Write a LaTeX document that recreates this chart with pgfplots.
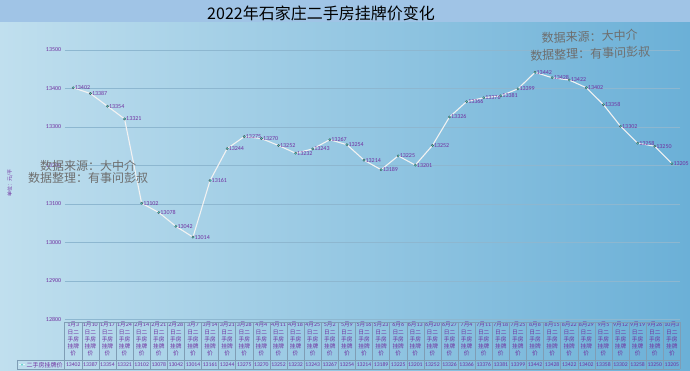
\documentclass[border=0pt]{standalone}
\usepackage{fontspec}
\setmainfont{Liberation Serif}
\newfontfamily\cjk{Noto Sans CJK SC}
\newfontfamily\num{Carlito}
\usepackage{pgfplots}
\pgfplotsset{compat=1.18}
\usepackage{pgfplotstable}
\definecolor{titlebar}{HTML}{A0C4E6}
\definecolor{bgl}{HTML}{C0DFEE}
\definecolor{bgr}{HTML}{6BB0D7}
\definecolor{lab}{HTML}{7030A0}
\definecolor{gridc}{HTML}{8DB7D0}
\definecolor{mk}{HTML}{3FD0C8}
\definecolor{wm}{HTML}{6E6E6E}
\definecolor{tbl}{HTML}{7F9DB5}

\pgfplotstableread{
idx val
0 13402
1 13387
2 13354
3 13321
4 13102
5 13078
6 13042
7 13014
8 13161
9 13244
10 13275
11 13270
12 13252
13 13232
14 13243
15 13267
16 13254
17 13214
18 13189
19 13225
20 13201
21 13252
22 13326
23 13366
24 13376
25 13381
26 13399
27 13442
28 13428
29 13422
30 13402
31 13358
32 13302
33 13258
34 13250
35 13205
}\data

\protected\def\hd#1#2{{\num\fontsize{6}{7.1}\selectfont #1}月{\num\fontsize{6}{7.1}\selectfont #2}\\日二\\手房\\挂牌\\价}

\begin{document}
\begin{tikzpicture}[x=1pt,y=1pt]
\fill[left color=bgl,right color=bgr] (0,0) rectangle (690,371);
\fill[titlebar] (0,349) rectangle (690,371);
\node[font=\cjk\fontsize{16}{18}\selectfont, text=black] at (321,358) {2022年石家庄二手房挂牌价变化};

\begin{axis}[
  at={(64.7pt,51.5pt)}, anchor=south west,
  scale only axis, width=615.7pt, height=269.5pt,
  xmin=-0.5, xmax=35.5, ymin=12800, ymax=13500,
  clip=false,
  axis line style={draw=none},
  major tick length=0pt,
  scaled y ticks=false,
  ytick={12800,12900,...,13500},
  ymajorgrids, grid style={gridc, line width=0.6pt},
  /pgf/number format/set thousands separator={},
  /pgf/number format/assume math mode=true,
  yticklabel style={font=\num\fontsize{6}{6}\selectfont, text=lab, /pgf/number format/fixed, /pgf/number format/precision=0},
  xtick={0,...,35},
  xticklabels={{\hd{1}{3}},{\hd{1}{10}},{\hd{1}{17}},{\hd{1}{24}},{\hd{2}{14}},{\hd{2}{21}},{\hd{2}{28}},{\hd{3}{7}},{\hd{3}{14}},{\hd{3}{21}},{\hd{3}{28}},{\hd{4}{4}},{\hd{4}{11}},{\hd{4}{18}},{\hd{4}{25}},{\hd{5}{2}},{\hd{5}{9}},{\hd{5}{16}},{\hd{5}{23}},{\hd{6}{6}},{\hd{6}{13}},{\hd{6}{20}},{\hd{6}{27}},{\hd{7}{4}},{\hd{7}{11}},{\hd{7}{18}},{\hd{7}{25}},{\hd{8}{8}},{\hd{8}{15}},{\hd{8}{22}},{\hd{8}{29}},{\hd{9}{5}},{\hd{9}{12}},{\hd{9}{19}},{\hd{9}{26}},{\hd{10}{3}}},
  xticklabel style={font=\cjk\fontsize{5.7}{7.1}\selectfont, text=lab, align=center, anchor=north, yshift=-1.8pt, inner sep=1pt},
]
\addplot[color=white!90!gray, line width=1.1pt, mark=*, mark size=1.2pt,
  mark options={fill=mk, draw=gray!60!black, line width=0.3pt},
  nodes near coords,
  nodes near coords style={font=\num\fontsize{6}{6}\selectfont, text=lab, anchor=west, xshift=0.5pt, inner sep=1pt}]
  table[x=idx,y=val]{\data};
\addplot[only marks, mark=none, forget plot,
  point meta=explicit, nodes near coords,
  nodes near coords style={font=\num\fontsize{5.7}{6}\selectfont, text=lab, anchor=center, yshift=-45.2pt, inner sep=0pt}]
  table[x=idx, y expr=12800, meta=val]{\data};
\end{axis}

% table grid
\foreach \i in {0,...,36} \draw[tbl, line width=0.5pt] ({64.7+\i*17.103},49) -- ({64.7+\i*17.103},1.5);
\draw[tbl, line width=0.5pt] (64.7,49) -- (680.4,49);
\draw[tbl, line width=0.5pt] (17,11) -- (680.4,11);
\draw[tbl, line width=0.5pt] (17,1.5) -- (680.4,1.5);
\draw[tbl, line width=0.5pt] (17,11) -- (17,1.5);
\draw[white!85!mk, line width=1pt] (19,6.2) -- (25,6.2);
\fill[mk] (22,6.2) circle (0.9pt);
\node[font=\cjk\fontsize{6}{6}\selectfont, text=lab, anchor=west, inner sep=0pt] at (26.5,6.2) {二手房挂牌价};

% y label
\node[font=\cjk\fontsize{5}{5}\selectfont, text=lab, rotate=90] at (10,188) {单位：元/平};

% watermarks
\node[font=\cjk\fontsize{12}{12}\selectfont, text=wm, align=center, rotate=2] at (590,326) {数据来源：大中介\\[5pt]数据整理：有事问彭叔};
\node[font=\cjk\fontsize{12}{12}\selectfont, text=wm, align=center] at (88,199) {数据来源：大中介\\数据整理：有事问彭叔};
\end{tikzpicture}
\end{document}
